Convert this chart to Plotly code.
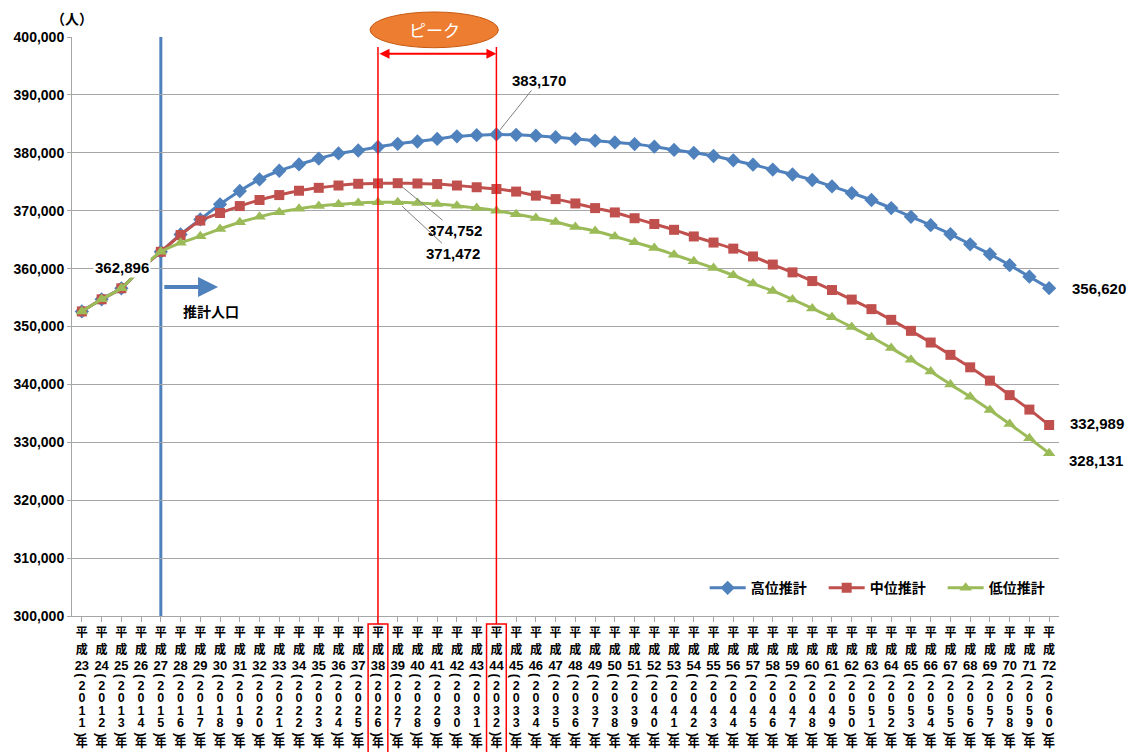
import plotly.graph_objects as go

# 平成23年(2011)〜平成72年(2060)
heisei = list(range(23, 73))
seireki = [h + 1988 for h in heisei]

high = [
    352600, 354700, 356600, 360000, 362896,
    365900, 368500, 371100, 373400, 375400,
    376900, 378000, 379000, 379900, 380400,
    381000, 381550, 381950, 382400, 382850,
    383050, 383170, 383100, 382950, 382700,
    382400, 382100, 381800, 381500, 381050,
    380500, 380000, 379450, 378700, 377950,
    377100, 376250, 375300, 374200, 373050,
    371850, 370450, 368950, 367500, 365950,
    364200, 362500, 360600, 358600, 356620,
]
mid = [
    352600, 354700, 356600, 360000, 362896,
    365800, 368300, 369600, 370800, 371850,
    372700, 373450, 373950, 374350, 374650,
    374720, 374752, 374700, 374600, 374350,
    374050, 373750, 373300, 372600, 372000,
    371250, 370450, 369700, 368700, 367700,
    366700, 365550, 364500, 363450, 362100,
    360700, 359350, 357850, 356300, 354650,
    353000, 351150, 349250, 347230, 345100,
    342950, 340650, 338150, 335650, 332989,
]
low = [
    352600, 354700, 356600, 360000, 362896,
    364450, 365600, 366850, 368000, 368950,
    369750, 370350, 370800, 371100, 371350,
    371450, 371472, 371350, 371150, 370850,
    370450, 370000, 369400, 368750, 368050,
    367200, 366500, 365550, 364550, 363550,
    362400, 361250, 360100, 358850, 357420,
    356150, 354670, 353120, 351600, 349900,
    348150, 346270, 344250, 342230, 340000,
    337860, 335570, 333160, 330690, 328131,
]

series_names = ["高位推計", "中位推計", "低位推計"]
series_colors = ["#4f81bd", "#c0504d", "#9bbb59"]
series_symbols = ["diamond", "square", "triangle-up"]
series_sizes = [11, 10, 11]

x = list(range(len(heisei)))
base_year_idx = 4        # 平成27年
peak_start_idx = 15      # 平成38年
peak_end_idx = 21        # 平成44年

JP = "Liberation Sans, Noto Sans CJK JP, sans-serif"
JP_CJK = "Noto Sans CJK JP, sans-serif"

fig = go.Figure()

for name, vals, col, sym, sz in zip(series_names, [high, mid, low], series_colors,
                                    series_symbols, series_sizes):
    fig.add_trace(go.Scatter(
        x=x, y=vals, name=name, mode="lines+markers",
        line=dict(color=col, width=3, shape="spline", smoothing=0.6),
        marker=dict(symbol=sym, size=sz, color=col),
        xaxis="x", yaxis="y",
    ))

# vertical category labels: 平 / 成 / NN / ( / y / y / y / y / ) / 年
rows = []
for h, s in zip(heisei, seireki):
    rows.append(["平", "成", str(h)] + list(str(s)) + ["年"])
row_y = [634, 651, 666.5, 686.5, 699, 711.5, 724, 744]
row_font = [(JP_CJK, 12), (JP_CJK, 12), (JP, 13),
            (JP, 12.5), (JP, 12.5), (JP, 12.5), (JP, 12.5), (JP_CJK, 12)]
for r, (yy, (fam, fs)) in enumerate(zip(row_y, row_font)):
    fig.add_trace(go.Scatter(
        x=x, y=[yy] * len(x), mode="text",
        text=[lab[r] for lab in rows],
        textfont=dict(family=fam, size=fs, color="#000000", weight="bold"),
        textposition="middle center", cliponaxis=False,
        showlegend=False, hoverinfo="skip",
        xaxis="x", yaxis="y2",
    ))

grid_col = "#a6a6a6"
fig.update_layout(
    width=1134, height=752,
    margin=dict(l=72, r=75, t=37, b=0, autoexpand=False),
    paper_bgcolor="#ffffff", plot_bgcolor="#ffffff",
    font=dict(family=JP, size=14, color="#000000"),
    xaxis=dict(
        range=[-0.5, len(x) - 0.5], tickmode="array", tickvals=x,
        showticklabels=False, ticks="outside", ticklen=5, tickcolor=grid_col,
        tickson="boundaries", showgrid=False, zeroline=False,
        showline=True, linecolor=grid_col, linewidth=1, anchor="y",
    ),
    yaxis=dict(
        domain=[0.1902, 1], range=[300000, 400000], dtick=10000,
        tickformat=",", ticks="outside", ticklen=4, tickcolor=grid_col,
        tickfont=dict(family=JP, size=14, weight="bold"),
        showgrid=True, gridcolor=grid_col, gridwidth=1, zeroline=False,
        showline=True, linecolor=grid_col, linewidth=1,
    ),
    yaxis2=dict(domain=[0, 0.1902], range=[752, 616], visible=False,
                anchor="x"),
    legend=dict(
        orientation="h", x=0.641, y=0.229, xanchor="left", yanchor="middle",
        font=dict(family=JP, size=14, weight="bold"),
        bgcolor="rgba(0,0,0,0)", entrywidth=68, entrywidthmode="pixels",
        itemwidth=36, traceorder="normal",
    ),
    showlegend=True,
)

shapes = []
# 推計開始年の縦線
shapes.append(dict(type="line", xref="x", yref="y", x0=base_year_idx, x1=base_year_idx,
                   y0=300000, y1=400000, line=dict(color="#4f81bd", width=3),
                   layer="below"))
# ピーク期間の縦線と年ラベル枠
for idx in (peak_start_idx, peak_end_idx):
    shapes.append(dict(type="line", xref="x", yref="paper", x0=idx, x1=idx,
                       y0=0.179, y1=0.986, line=dict(color="#ff0000", width=1.5),
                       layer="above"))
    shapes.append(dict(type="rect", xref="x", yref="y2", x0=idx - 0.5, x1=idx + 0.5,
                       y0=624, y1=753, line=dict(color="#ff0000", width=1.5),
                       layer="above"))
# ピーク楕円
shapes.append(dict(type="circle", xref="x", yref="paper",
                   x0=peak_start_idx - 0.4, x1=peak_end_idx + 0.1,
                   y0=0.985, y1=1.035, fillcolor="#ed7d31",
                   line=dict(color="#c55a11", width=1), layer="above"))
fig.update_layout(shapes=shapes)

ann = []
# 縦書きの括弧（横向きに回転）
for i in x:
    ann.append(dict(xref="x", yref="y2", x=i, y=676, text="(", textangle=90,
                    showarrow=False, font=dict(family=JP, size=13, weight="bold")))
    ann.append(dict(xref="x", yref="y2", x=i, y=734.5, text=")", textangle=90,
                    showarrow=False, font=dict(family=JP, size=13, weight="bold")))

ann.append(dict(xref="paper", yref="paper", x=0, y=1.027, text="（人）",
                showarrow=False, xanchor="center", yanchor="middle",
                font=dict(family=JP_CJK, size=14, weight="bold")))
ann.append(dict(xref="x", yref="paper", x=(peak_start_idx + peak_end_idx) / 2 - 0.15,
                y=1.010, text="ピーク", showarrow=False, yanchor="middle",
                font=dict(family=JP_CJK, size=17, color="#ffffff")))
# 両矢印（ピーク期間）
ann.append(dict(xref="x", yref="y", axref="x", ayref="y",
                x=peak_end_idx, y=397100, ax=peak_start_idx, ay=397100, text="",
                showarrow=True, arrowhead=2, startarrowhead=2, arrowside="end+start",
                arrowsize=1, arrowwidth=2, arrowcolor="#ff0000",
                standoff=0, startstandoff=0))
# 推計人口の矢印
ann.append(dict(xref="x", yref="y", axref="x", ayref="y",
                x=base_year_idx + 2.9, y=356820, ax=base_year_idx + 0.1, ay=356820,
                text="", showarrow=True, arrowhead=2, arrowsize=1, arrowwidth=4,
                arrowcolor="#4f81bd"))
ann.append(dict(xref="x", yref="y", x=base_year_idx + 2.55, y=352680, text="推計人口",
                showarrow=False, font=dict(family=JP_CJK, size=14, weight="bold")))


def value_label(idx, vals, ax, ay, leader=False):
    return dict(xref="x", yref="y", x=idx, y=vals[idx], text=f"{vals[idx]:,}",
                showarrow=leader, arrowhead=0, arrowwidth=1, arrowcolor="#808080",
                ax=ax, ay=ay, standoff=6, bgcolor="#ffffff",
                font=dict(family=JP, size=15, weight="bold"),
                **({} if leader else {"xshift": ax, "yshift": -ay}))


ann.append(value_label(base_year_idx, mid, -39, 16))
ann.append(value_label(high.index(max(high)), high, 43, -54, leader=True))
ann.append(value_label(mid.index(max(mid)), mid, 57, 47, leader=True))
ann.append(value_label(low.index(max(low)), low, 55, 51, leader=True))
last = len(x) - 1
ann.append(value_label(last, high, 50, 0))
ann.append(value_label(last, mid, 48, -2))
ann.append(value_label(last, low, 47, 7))
fig.update_layout(annotations=ann)

fig.write_html("out.html")
